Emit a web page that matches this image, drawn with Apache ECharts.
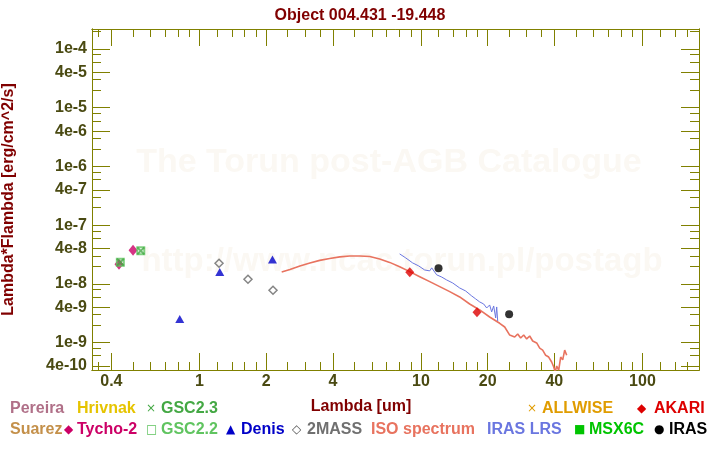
<!DOCTYPE html>
<html>
<head>
<meta charset="utf-8">
<script src="https://cdn.jsdelivr.net/npm/echarts@6/dist/echarts.min.js"></script>
<style>
  html, body { margin: 0; padding: 0; background: #fff; }
  #chart { width: 720px; height: 450px; }
</style>
</head>
<body>
<div id="chart"></div>
<script>
// wavelength in um, lambda*F_lambda in erg/cm^2/s
const tychoWave = [0.433, 0.501];
const tychoFlux = [2.17e-8, 3.76e-8];
const gsc22Wave = [0.439, 0.543];
const gsc22Flux = [2.34e-8, 3.66e-8];
const gsc23Wave = [0.439, 0.543];
const gsc23Flux = [2.34e-8, 3.66e-8];
const denisWave = [0.814, 1.234, 2.135];
const denisFlux = [2.54e-9, 1.60e-8, 2.6e-8];
const massWave = [1.225, 1.655, 2.147];
const massFlux = [2.25e-8, 1.20e-8, 7.8e-9];
const akariWave = [8.9, 17.9];
const akariFlux = [1.58e-8, 3.30e-9];
const irasWave = [12, 25];
const irasFlux = [1.85e-8, 3.05e-9];

const isoWave = [2.35, 2.56, 2.84, 3.15, 3.49, 3.87, 4.30, 4.77, 5.29, 5.87,
  6.51, 7.22, 8.01, 8.89, 9.87, 10.95, 12.15, 13.48, 14.95, 16.59,
  18.41, 20.42, 22.66, 23.88, 25.15, 26.49, 27.33, 28.19, 29.09, 30.01,
  30.96, 31.94, 33.30, 34.36, 35.43, 36.56, 37.72, 38.9, 39.72, 40.36,
  41.0, 41.86, 42.73, 43.64, 44.55, 45.49];
const isoFlux = [1.60e-8, 1.77e-8, 2.03e-8, 2.28e-8, 2.52e-8, 2.72e-8, 2.89e-8, 3.00e-8, 3.00e-8, 2.94e-8,
  2.67e-8, 2.33e-8, 1.97e-8, 1.62e-8, 1.33e-8, 1.095e-8, 9.0e-9, 7.4e-9, 6.01e-9, 4.56e-9,
  3.61e-9, 2.74e-9, 2.14e-9, 1.85e-9, 1.35e-9, 1.25e-9, 1.41e-9, 1.20e-9, 1.35e-9, 1.16e-9,
  1.30e-9, 1.07e-9, 9.9e-10, 8.1e-10, 7.5e-10, 6.1e-10, 5.7e-10, 4.7e-10, 3.9e-10, 3.2e-10,
  4.0e-10, 3.4e-10, 5.7e-10, 5.1e-10, 7.5e-10, 6.1e-10];

const lrsWave = [8.01, 8.53, 9.17, 9.76, 10.39, 10.95, 11.18, 11.77, 12.41, 13.06, 13.90, 14.95,
  15.91, 16.94, 17.66, 18.41, 19.19, 19.80, 20.42, 20.85, 21.29, 21.74, 21.97, 22.20];
const lrsFlux = [3.25e-8, 2.78e-8, 2.28e-8, 2.03e-8, 1.73e-8, 1.67e-8, 1.88e-8, 1.43e-8, 1.31e-8, 1.17e-8, 1.04e-8, 8.55e-9,
  7.60e-9, 6.25e-9, 5.56e-9, 4.94e-9, 4.56e-9, 3.90e-9, 4.39e-9, 3.34e-9, 4.22e-9, 2.64e-9, 4.06e-9, 2.34e-9];

const xLabelValues = [0.4, 1, 2, 4, 10, 20, 40, 100];
const xMinorValues = [0.35, 0.5, 0.6, 0.7, 0.8, 0.9, 1.2, 1.4, 1.6, 1.8, 2.5, 3, 3.5, 5, 6, 7, 8, 9,
  12, 14, 16, 18, 25, 30, 35, 50, 60, 70, 80, 90, 120, 140, 160];
const yLabelValues = [4e-10, 1e-9, 4e-9, 1e-8, 4e-8, 1e-7, 4e-7, 1e-6, 4e-6, 1e-5, 4e-5, 1e-4];
const yMinorValues = [6e-10, 8e-10, 2e-9, 3e-9, 6e-9, 8e-9, 2e-8, 3e-8, 6e-8, 8e-8, 2e-7, 3e-7, 6e-7, 8e-7,
  2e-6, 3e-6, 6e-6, 8e-6, 2e-5, 3e-5, 6e-5, 8e-5, 2e-4];

const xMin = 0.327, xMax = 180;
const yMin = 3.43e-10, yMax = 2.19e-4;

const FONT = 'Liberation Sans, Arial, sans-serif';
const AXIS = '#808000';
const LABEL = '#4a4a12';

const pairs = (xs, ys) => xs.map((x, i) => [x, ys[i]]);

function expLabel(v) {
  const e = Math.floor(Math.log10(v) + 1e-9);
  const m = Math.round(v / Math.pow(10, e));
  return m + 'e' + e;
}

function makeAxis(kind, position, values, len, withLabels) {
  const ax = {
    type: 'log',
    position: position,
    min: kind === 'x' ? xMin : yMin,
    max: kind === 'x' ? xMax : yMax,
    axisLine: { show: true, lineStyle: { color: AXIS, width: 1 } },
    axisTick: { show: true, inside: true, length: len, customValues: values, lineStyle: { color: AXIS, width: 1 } },
    axisLabel: { show: false },
    splitLine: { show: false },
    minorTick: { show: false }
  };
  if (withLabels) {
    ax.axisLabel = {
      show: true,
      customValues: values,
      color: LABEL,
      fontFamily: FONT,
      fontWeight: 'bold',
      fontSize: 16,
      margin: kind === 'x' ? 4 : 5,
      formatter: kind === 'x' ? (v) => String(+v.toPrecision(3)) : expLabel
    };
  }
  return ax;
}

const xAxes = [
  makeAxis('x', 'bottom', xLabelValues, 17, true),
  makeAxis('x', 'bottom', xMinorValues, 8, false),
  makeAxis('x', 'top', xLabelValues, 17, false),
  makeAxis('x', 'top', xMinorValues, 8, false)
];
const yAxes = [
  makeAxis('y', 'left', yLabelValues, 18, true),
  makeAxis('y', 'left', yMinorValues, 9, false),
  makeAxis('y', 'right', yLabelValues, 18, false),
  makeAxis('y', 'right', yMinorValues, 9, false)
];
yAxes[0].name = 'Lambda*Flambda [erg/cm^2/s]';
yAxes[0].nameLocation = 'middle';
yAxes[0].nameGap = 75;
yAxes[0].nameTextStyle = { color: '#800000', fontFamily: FONT, fontWeight: 'bold', fontSize: 16 };

function legendText(x, y, text, color, small) {
  return {
    type: 'text', x: x, y: y, silent: true,
    style: {
      text: text, fill: color,
      font: small ? '12px DejaVu Sans' : 'bold 16px ' + FONT,
      align: 'left', verticalAlign: 'middle'
    }
  };
}

const chart = echarts.init(document.getElementById('chart'), null, { renderer: 'canvas' });

chart.setOption({
  animation: false,
  backgroundColor: '#fff',
  title: {
    text: 'Object 004.431 -19.448',
    left: 'center',
    top: 3,
    textStyle: { color: '#800000', fontFamily: FONT, fontWeight: 'bold', fontSize: 16 }
  },
  grid: { left: 92, right: 21, top: 29, bottom: 80, containLabel: false, outerBoundsMode: 'none' },
  xAxis: xAxes,
  yAxis: yAxes,
  graphic: [
    {
      type: 'text', x: 389, y: 163, silent: true, z: -10,
      style: { text: 'The Torun post-AGB Catalogue', fill: '#fbf8f3', font: 'bold 34px ' + FONT, align: 'center', verticalAlign: 'middle' }
    },
    {
      type: 'text', x: 402, y: 262, silent: true, z: -10,
      style: { text: 'http://www.ncac.torun.pl/postagb', fill: '#fbf8f3', font: 'bold 33px ' + FONT, align: 'center', verticalAlign: 'middle' }
    },
    {
      type: 'text', x: 361, y: 407, silent: true,
      style: { text: 'Lambda [um]', fill: '#800000', font: 'bold 16px ' + FONT, align: 'center', verticalAlign: 'middle' }
    },
    legendText(10, 409, 'Pereira', '#b07088'),
    legendText(77, 409, 'Hrivnak', '#e6c400'),
    legendText(146, 409, '×', '#44a844', true),
    legendText(161, 409, 'GSC2.3', '#44a844'),
    legendText(527, 409, '×', '#e09c00', true),
    legendText(542, 409, 'ALLWISE', '#e09c00'),
    legendText(637, 409, '◆', '#dd0000', true),
    legendText(654, 409, 'AKARI', '#dd0000'),
    legendText(10, 430, 'Suarez', '#c4904a'),
    legendText(64, 430, '◆', '#cc0066', true),
    legendText(77, 430, 'Tycho-2', '#cc0066'),
    legendText(146, 430, '□', '#60c460', true),
    legendText(161, 430, 'GSC2.2', '#60c460'),
    legendText(226, 430, '▲', '#0000c8', true),
    legendText(241, 430, 'Denis', '#0000c8'),
    legendText(292, 430, '◇', '#555555', true),
    legendText(307, 430, '2MASS', '#707070'),
    legendText(371, 430, 'ISO spectrum', '#e8735f'),
    legendText(487, 430, 'IRAS LRS', '#6a76e0'),
    legendText(574, 430, '■', '#00c400', true),
    legendText(589, 430, 'MSX6C', '#00c400'),
    legendText(654, 430, '●', '#000000', true),
    legendText(669, 430, 'IRAS', '#000000')
  ],
  series: [
    {
      name: 'ISO spectrum', type: 'line', data: pairs(isoWave, isoFlux),
      showSymbol: false, symbol: 'none', z: 2,
      lineStyle: { color: '#e8735f', width: 1.6 }
    },
    {
      name: 'IRAS LRS', type: 'line', data: pairs(lrsWave, lrsFlux),
      showSymbol: false, symbol: 'none', z: 2,
      lineStyle: { color: '#6a76e0', width: 1 }
    },
    {
      name: 'Tycho-2', type: 'scatter', data: pairs(tychoWave, tychoFlux), z: 3,
      symbol: 'diamond', symbolSize: [9, 11], itemStyle: { color: '#cc0066' }
    },
    {
      name: 'GSC2.2', type: 'scatter', data: pairs(gsc22Wave, gsc22Flux), z: 3,
      symbol: 'rect', symbolSize: 7, itemStyle: { color: 'none', borderColor: '#60c460', borderWidth: 2 }
    },
    {
      name: 'GSC2.3', type: 'scatter', data: pairs(gsc23Wave, gsc23Flux), z: 3,
      symbol: 'path://M0,0L10,10M10,0L0,10', symbolSize: 7,
      itemStyle: { color: 'none', borderColor: '#44a844', borderWidth: 2 }
    },
    {
      name: 'Denis', type: 'scatter', data: pairs(denisWave, denisFlux), z: 3,
      symbol: 'triangle', symbolSize: [9, 8], itemStyle: { color: '#0000c8' }
    },
    {
      name: '2MASS', type: 'scatter', data: pairs(massWave, massFlux), z: 3,
      symbol: 'diamond', symbolSize: 8, itemStyle: { color: 'none', borderColor: '#666666', borderWidth: 1.5 }
    },
    {
      name: 'AKARI', type: 'scatter', data: pairs(akariWave, akariFlux), z: 3,
      symbol: 'diamond', symbolSize: [9, 10], itemStyle: { color: '#dd0000' }
    },
    {
      name: 'IRAS', type: 'scatter', data: pairs(irasWave, irasFlux), z: 3,
      symbol: 'circle', symbolSize: 8, itemStyle: { color: '#000000' }
    }
  ]
});
</script>
</body>
</html>
